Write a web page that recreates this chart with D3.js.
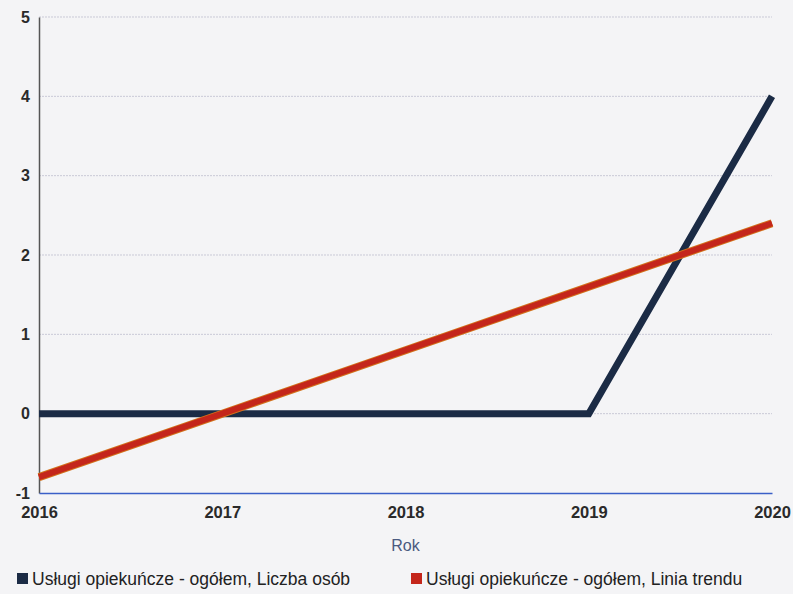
<!DOCTYPE html>
<html><head><meta charset="utf-8">
<script src="https://cdn.jsdelivr.net/npm/d3@7"></script>
<style>body{margin:0;background:#f4f4f6;}svg{display:block;}</style>
</head><body>
<script>
const years = [2016, 2017, 2018, 2019, 2020];
const liczbaOsob = [0, 0, 0, 0, 4];
const liniaTrendu = [-0.8, 0, 0.8, 1.6, 2.4];
const yTicks = [-1, 0, 1, 2, 3, 4, 5];
const seriesNames = ["Usługi opiekuńcze - ogółem, Liczba osób", "Usługi opiekuńcze - ogółem, Linia trendu"];
const seriesColors = ["#1b2b45", "#c4261b"];

const W = 793, H = 594;
const m = {left: 39, right: 21, top: 17, bottom: 101};
const svg = d3.select("body").append("svg").attr("width", W).attr("height", H);
const x = d3.scaleLinear().domain([2016, 2020]).range([m.left, W - m.right]);
const y = d3.scaleLinear().domain([-1, 5]).range([H - m.bottom, m.top]);
const font = "Liberation Sans, Arial, sans-serif";

// grid
svg.append("g").selectAll("line").data(yTicks.filter(d => d > -1)).join("line")
  .attr("x1", m.left).attr("x2", W - m.right)
  .attr("y1", d => y(d)).attr("y2", d => y(d))
  .attr("stroke", "#c9c9d6").attr("stroke-width", 1).attr("stroke-dasharray", "2,1");

// y axis
const ya = svg.append("g").attr("transform", `translate(${m.left},0)`)
  .call(d3.axisLeft(y).tickValues(yTicks).tickSize(0).tickPadding(9).tickFormat(d => String(d)));
ya.select(".domain").attr("stroke", "#555").attr("stroke-width", 1.5);
ya.selectAll("text").attr("font-family", font).attr("font-size", 16)
  .attr("font-weight", "bold").attr("fill", "#2a2a2a");

// x axis
const xa = svg.append("g").attr("transform", `translate(0,${y(-1)})`)
  .call(d3.axisBottom(x).tickValues(years).tickSize(0).tickPadding(13).tickFormat(d => String(d)));
xa.select(".domain").attr("stroke", "#3a5fc8").attr("stroke-width", 1.5);
xa.selectAll("text").attr("font-family", font).attr("font-size", 16.5)
  .attr("font-weight", "bold").attr("fill", "#2a2a2a");

svg.append("text").attr("x", (m.left + W - m.right) / 2).attr("y", 551).attr("text-anchor", "middle")
  .attr("font-family", font).attr("font-size", 16).attr("fill", "#4a5a80").text("Rok");

const line = d3.line().x((d, i) => x(years[i])).y(d => y(d));
svg.append("path").datum(liczbaOsob).attr("d", line).attr("fill", "none")
  .attr("stroke", seriesColors[0]).attr("stroke-width", 7).attr("stroke-linejoin", "miter");
svg.append("path").datum(liniaTrendu).attr("d", line).attr("fill", "none")
  .attr("stroke", "#d2701a").attr("stroke-width", 8);
svg.append("path").datum(liniaTrendu).attr("d", line).attr("fill", "none")
  .attr("stroke", seriesColors[1]).attr("stroke-width", 6);

// legend
const lg = svg.append("g").attr("font-family", font).attr("font-size", 17.5).attr("fill", "#222");
const lx = [17, 411];
seriesNames.forEach((n, i) => {
  lg.append("rect").attr("x", lx[i]).attr("y", 573).attr("width", 11).attr("height", 11).attr("fill", seriesColors[i]);
  lg.append("text").attr("x", lx[i] + 15).attr("y", 585).text(n);
});
</script>
</body></html>
